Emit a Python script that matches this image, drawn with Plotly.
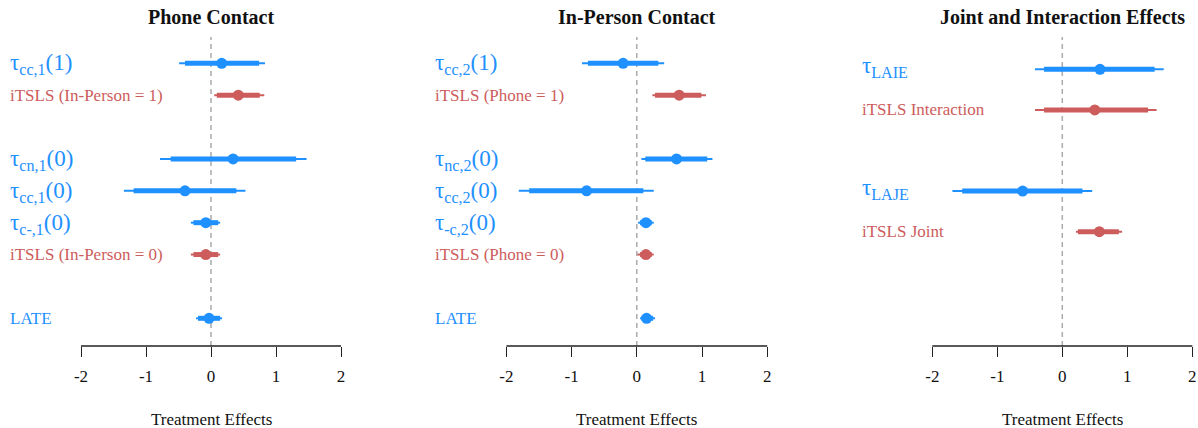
import plotly.graph_objects as go

# ---------------- data ----------------
# None entries mark empty spacer rows
p1_labels = ["τ<sub>cc,1</sub>(1)", "iTSLS (In-Person = 1)", None,
             "τ<sub>cn,1</sub>(0)", "τ<sub>cc,1</sub>(0)", "τ<sub>c-,1</sub>(0)",
             "iTSLS (In-Person = 0)", None, "LATE"]
p1_kind = ["tau", "itsls", None, "tau", "tau", "tau", "itsls", None, "tau"]
p1_est = [0.165, 0.42, None, 0.34, -0.40, -0.08, -0.08, None, -0.03]
p1_lo90 = [-0.40, 0.09, None, -0.62, -1.19, -0.27, -0.27, None, -0.20]
p1_hi90 = [0.74, 0.75, None, 1.31, 0.39, 0.11, 0.11, None, 0.14]
p1_lo95 = [-0.49, 0.05, None, -0.785, -1.34, -0.31, -0.31, None, -0.23]
p1_hi95 = [0.83, 0.82, None, 1.47, 0.53, 0.14, 0.14, None, 0.17]

p2_labels = ["τ<sub>cc,2</sub>(1)", "iTSLS (Phone = 1)", None,
             "τ<sub>nc,2</sub>(0)", "τ<sub>cc,2</sub>(0)", "τ<sub>-c,2</sub>(0)",
             "iTSLS (Phone = 0)", None, "LATE"]
p2_kind = ["tau", "itsls", None, "tau", "tau", "tau", "itsls", None, "tau"]
p2_est = [-0.21, 0.65, None, 0.61, -0.77, 0.14, 0.14, None, 0.15]
p2_lo90 = [-0.75, 0.28, None, 0.13, -1.65, 0.05, 0.05, None, 0.07]
p2_hi90 = [0.33, 0.99, None, 1.08, 0.10, 0.23, 0.23, None, 0.25]
p2_lo95 = [-0.84, 0.24, None, 0.07, -1.81, 0.02, 0.01, None, 0.05]
p2_hi95 = [0.42, 1.06, None, 1.16, 0.26, 0.26, 0.26, None, 0.28]

p3_labels = ["τ<sub>LAIE</sub>", "iTSLS Interaction", None,
             "τ<sub>LAJE</sub>", "iTSLS Joint"]
p3_kind = ["tau", "itsls", None, "tau", "itsls"]
p3_est = [0.58, 0.50, None, -0.61, 0.57]
p3_lo90 = [-0.28, -0.28, None, -1.54, 0.24]
p3_hi90 = [1.42, 1.32, None, 0.31, 0.87]
p3_lo95 = [-0.42, -0.42, None, -1.69, 0.21]
p3_hi95 = [1.56, 1.45, None, 0.46, 0.92]

titles = ["Phone Contact", "In-Person Contact", "Joint and Interaction Effects"]
tick_vals = [-2, -1, 0, 1, 2]
tick_text = ["-2", "-1", "0", "1", "2"]
x_title = "Treatment Effects"

# ---------------- style / layout ----------------
W, H = 1198, 428
FONT = "Liberation Serif"
COLORS = {"tau": "#1E90FF", "itsls": "#CD5C5C"}
TOP_PX, AXIS_PX = 37, 346

panels = [
    dict(labels=p1_labels, kind=p1_kind, est=p1_est, lo90=p1_lo90, hi90=p1_hi90,
         lo95=p1_lo95, hi95=p1_hi95, dom=(0, 400), zero=211.0, scale=65.0,
         row1=63.3, step=31.875),
    dict(labels=p2_labels, kind=p2_kind, est=p2_est, lo90=p2_lo90, hi90=p2_hi90,
         lo95=p2_lo95, hi95=p2_hi95, dom=(400, 800), zero=636.8, scale=65.2,
         row1=63.3, step=31.875),
    dict(labels=p3_labels, kind=p3_kind, est=p3_est, lo90=p3_lo90, hi90=p3_hi90,
         lo95=p3_lo95, hi95=p3_hi95, dom=(800, 1198), zero=1062.3, scale=65.0,
         row1=69.3, step=40.6),
]

fig = go.Figure()
layout = dict(width=W, height=H, margin=dict(l=0, r=0, t=0, b=0),
              paper_bgcolor="white", plot_bgcolor="white", showlegend=False)
shapes, annotations = [], []

ydom = [1 - AXIS_PX / H, 1 - TOP_PX / H]

for i, p in enumerate(panels):
    n = i + 1
    xa = "x" if n == 1 else f"x{n}"
    ya = "y" if n == 1 else f"y{n}"
    xkey = "xaxis" if n == 1 else f"xaxis{n}"
    ykey = "yaxis" if n == 1 else f"yaxis{n}"
    d0, d1 = p["dom"]
    xr = [-(p["zero"] - d0) / p["scale"], (d1 - p["zero"]) / p["scale"]]
    ytop = 1 + (TOP_PX - p["row1"]) / p["step"]
    ybot = 1 + (AXIS_PX - p["row1"]) / p["step"]
    layout[xkey] = dict(domain=[d0 / W, d1 / W], range=xr, anchor=ya,
                        tickvals=tick_vals, ticktext=tick_text, ticks="outside",
                        ticklen=10, tickwidth=1.4, tickcolor="#222",
                        ticklabelstandoff=5,
                        showline=False, showgrid=False, zeroline=False,
                        tickfont=dict(family=FONT, size=17, color="#111"),
                        fixedrange=True)
    layout[ykey] = dict(domain=ydom, range=[ybot, ytop], anchor=xa,
                        visible=False, showgrid=False, zeroline=False,
                        fixedrange=True)

    # axis line from -2 to 2
    shapes.append(dict(type="line", xref=xa, yref="paper", x0=tick_vals[0],
                       x1=tick_vals[-1], y0=ydom[0], y1=ydom[0],
                       line=dict(color="#222", width=1.4)))
    # dashed zero line
    shapes.append(dict(type="line", xref=xa, yref="paper", x0=0, x1=0,
                       y0=ydom[0], y1=ydom[1], layer="below",
                       line=dict(color="#AAAAAA", width=1.5, dash="5px,4px")))

    for kind in ["tau", "itsls"]:
        tx, ty, kx, ky, mx, my = [], [], [], [], [], []
        for r, k in enumerate(p["kind"]):
            if k != kind:
                continue
            row = r + 1
            tx += [p["lo95"][r], p["hi95"][r], None]
            ty += [row, row, None]
            kx += [p["lo90"][r], p["hi90"][r], None]
            ky += [row, row, None]
            mx.append(p["est"][r])
            my.append(row)
        c = COLORS[kind]
        fig.add_trace(go.Scatter(x=tx, y=ty, mode="lines", xaxis=xa, yaxis=ya,
                                 line=dict(color=c, width=2), hoverinfo="skip"))
        fig.add_trace(go.Scatter(x=kx, y=ky, mode="lines", xaxis=xa, yaxis=ya,
                                 line=dict(color=c, width=5), hoverinfo="skip"))
        fig.add_trace(go.Scatter(x=mx, y=my, mode="markers", xaxis=xa, yaxis=ya,
                                 marker=dict(color=c, size=11, line=dict(width=0))))

    # row labels
    for r, lab in enumerate(p["labels"]):
        if lab is None:
            continue
        k = p["kind"][r]
        is_tau = lab.startswith("τ")
        has_paren = lab.endswith(")") and is_tau
        annotations.append(dict(
            x=-3.12, y=r + 1, xref=xa, yref=ya, text=lab, showarrow=False,
            xanchor="left", yanchor="middle",
            yshift=(-1 if has_paren else (2 if is_tau else 0)),
            font=dict(family=FONT, size=(23 if is_tau else 17), color=COLORS[k])))

    # panel title
    annotations.append(dict(x=0, y=1 - 17 / H, xref=xa, yref="paper",
                            text=f"<b>{titles[i]}</b>", showarrow=False,
                            xanchor="center", yanchor="middle",
                            font=dict(family=FONT, size=20, color="#111")))
    # axis title
    annotations.append(dict(x=0, y=1 - 419 / H, xref=xa, yref="paper",
                            text=x_title, showarrow=False,
                            xanchor="center", yanchor="middle",
                            font=dict(family=FONT, size=17, color="#111")))

layout["shapes"] = shapes
layout["annotations"] = annotations
fig.update_layout(**layout)
fig.write_html("out.html", config={"displayModeBar": False},
               post_script="document.body.style.margin='0';"
                           "document.body.style.overflow='hidden';")
